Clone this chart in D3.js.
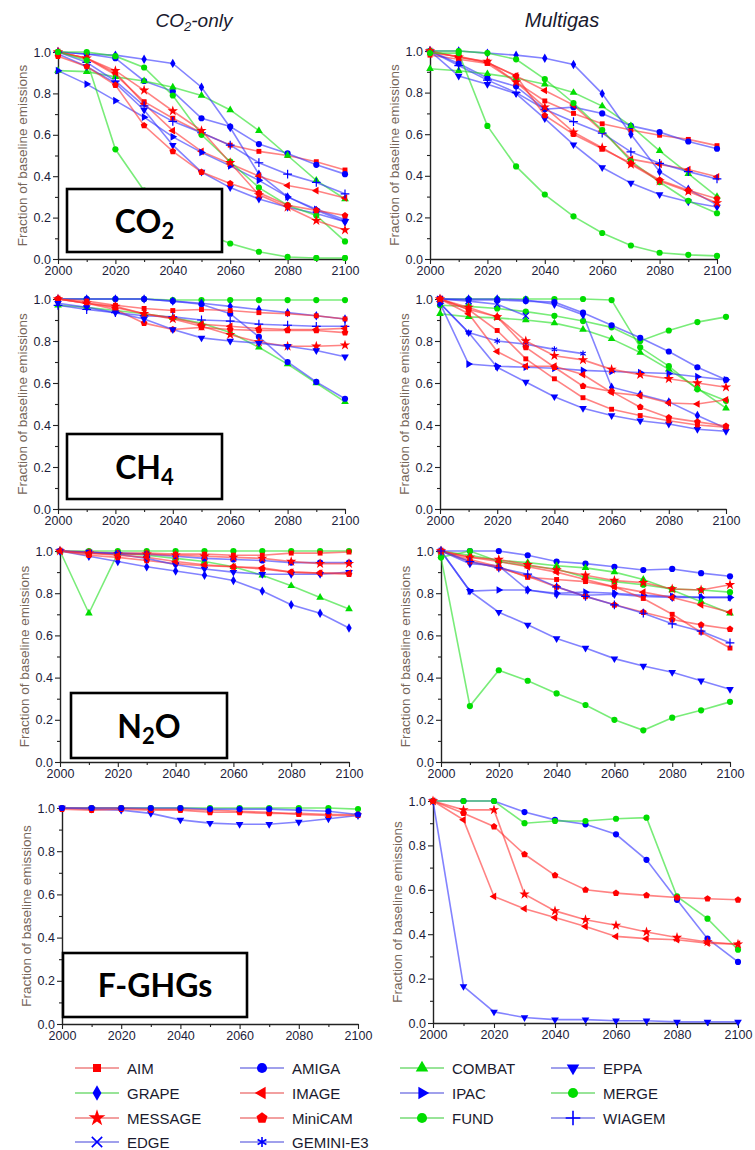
<!DOCTYPE html>
<html><head><meta charset="utf-8">
<script src="https://cdn.jsdelivr.net/npm/d3@7"></script>
<style>body{margin:0;background:#fff}svg{display:block}</style>
</head><body><svg id="c" width="755" height="1150"></svg>
<script>
const years = [2000,2010,2020,2030,2040,2050,2060,2070,2080,2090,2100];
const xTicks = [2000,2020,2040,2060,2080,2100];
const xMinor = [2010,2030,2050,2070,2090];
const yTicks = [0,0.2,0.4,0.6,0.8,1.0];
const yMinor = [0.1,0.3,0.5,0.7,0.9];
const columnTitles = ["CO2-only","Multigas"];
const gasLabels = ["CO2","CH4","N2O","F-GHGs"];

const modelNames = ["AIM","AMIGA","COMBAT","EPPA","GRAPE","IMAGE","IPAC","MERGE","MESSAGE","MiniCAM","FUND","WIAGEM","EDGE","GEMINI-E3"];
const modelMarkers = ["square","circle","triUp","triDown","diamond","triLeft","triRight","circle","star","pentagon","circle","plus","times","asterisk"];
const modelGroup = ["r","b","g","b","b","r","b","g","r","r","g","b","b","b"];

// CO2 — CO2-only
const co2_CO2only = [
 ["AIM",     [1.0,0.97,0.89,0.76,0.68,0.61,0.55,0.52,0.50,0.47,0.43]],
 ["AMIGA",   [1.0,0.99,0.97,0.86,0.81,0.68,0.64,0.555,0.51,0.455,0.41]],
 ["COMBAT",  [0.91,0.905,0.88,0.86,0.83,0.79,0.72,0.62,0.50,0.38,0.29]],
 ["EPPA",    [0.99,0.93,0.85,0.72,0.55,0.42,0.345,0.29,0.25,0.22,0.18]],
 ["GRAPE",   [1.0,0.99,0.985,0.965,0.945,0.83,0.635,0.41,0.30,0.235,0.18]],
 ["IMAGE",   [1.0,0.97,0.90,0.75,0.62,0.52,0.46,0.40,0.355,0.33,0.295]],
 ["IPAC",    [0.91,0.845,0.765,0.685,0.59,0.515,0.45,0.38,0.30,0.24,0.19]],
 ["WIAGEM",  [1.0,0.95,0.86,0.74,0.665,0.61,0.55,0.465,0.41,0.37,0.315]],
 ["MERGE",   [1.0,1.0,0.98,0.925,0.79,0.60,0.47,0.345,0.26,0.21,0.085]],
 ["MESSAGE", [1.0,0.97,0.91,0.815,0.715,0.62,0.465,0.31,0.25,0.185,0.14]],
 ["MiniCAM", [0.98,0.93,0.84,0.645,0.52,0.42,0.365,0.32,0.26,0.235,0.21]],
 ["FUND",    [1.0,0.96,0.53,0.33,0.20,0.13,0.075,0.035,0.01,0.005,0.005]]
];
// CO2 — Multigas
const co2_Multigas = [
 ["AIM",     [0.98,0.96,0.94,0.85,0.76,0.70,0.65,0.62,0.595,0.575,0.545]],
 ["AMIGA",   [1.0,0.94,0.87,0.83,0.72,0.73,0.70,0.64,0.61,0.565,0.53]],
 ["COMBAT",  [0.915,0.905,0.89,0.87,0.84,0.80,0.735,0.64,0.52,0.41,0.30]],
 ["EPPA",    [1.0,0.88,0.84,0.795,0.675,0.55,0.44,0.365,0.31,0.275,0.25]],
 ["GRAPE",   [1.0,1.0,0.99,0.98,0.965,0.935,0.795,0.60,0.42,0.335,0.26]],
 ["IMAGE",   [1.0,0.97,0.945,0.88,0.81,0.74,0.615,0.48,0.455,0.43,0.395]],
 ["WIAGEM",  [1.0,0.93,0.86,0.80,0.72,0.66,0.605,0.515,0.46,0.42,0.385]],
 ["MERGE",   [1.0,1.0,0.99,0.96,0.865,0.75,0.62,0.47,0.37,0.28,0.22]],
 ["MESSAGE", [1.0,0.97,0.95,0.85,0.73,0.61,0.535,0.455,0.375,0.325,0.27]],
 ["MiniCAM", [0.99,0.975,0.945,0.88,0.69,0.60,0.53,0.46,0.38,0.33,0.29]],
 ["FUND",    [0.99,0.99,0.64,0.445,0.31,0.205,0.125,0.065,0.03,0.02,0.015]]
];
// CH4 — CO2-only
const ch4_CO2only = [
 ["MERGE",   [1.0,1.0,1.0,1.0,0.995,0.995,0.995,0.995,0.995,0.995,0.995]],
 ["COMBAT",  [0.97,0.96,0.945,0.93,0.91,0.885,0.84,0.77,0.69,0.60,0.51]],
 ["AMIGA",   [1.0,1.0,1.0,1.0,0.99,0.975,0.93,0.82,0.70,0.605,0.525]],
 ["GRAPE",   [1.0,1.0,1.0,1.0,0.99,0.98,0.965,0.95,0.935,0.92,0.905]],
 ["AIM",     [1.0,0.99,0.97,0.955,0.945,0.95,0.945,0.935,0.93,0.92,0.905]],
 ["WIAGEM",  [0.97,0.95,0.935,0.92,0.915,0.90,0.895,0.88,0.875,0.87,0.87]],
 ["IMAGE",   [1.0,0.98,0.96,0.93,0.91,0.88,0.87,0.86,0.855,0.855,0.86]],
 ["MiniCAM", [1.0,0.98,0.95,0.885,0.855,0.865,0.855,0.85,0.85,0.85,0.84]],
 ["MESSAGE", [1.0,0.98,0.965,0.93,0.905,0.87,0.83,0.795,0.775,0.775,0.78]],
 ["EPPA",    [0.98,0.96,0.935,0.905,0.855,0.815,0.80,0.79,0.775,0.755,0.725]]
];
// CH4 — Multigas
const ch4_Multigas = [
 ["MERGE",   [1.0,1.0,1.0,1.0,1.0,1.0,0.995,0.77,0.68,0.57,0.515]],
 ["FUND",    [0.97,0.965,0.955,0.94,0.92,0.895,0.865,0.80,0.85,0.89,0.915]],
 ["COMBAT",  [0.93,0.915,0.91,0.90,0.885,0.855,0.81,0.745,0.665,0.575,0.48]],
 ["AMIGA",   [1.0,0.995,0.995,0.99,0.985,0.935,0.875,0.815,0.75,0.675,0.615]],
 ["GRAPE",   [1.0,1.0,1.0,0.995,0.975,0.925,0.58,0.545,0.51,0.445,0.385]],
 ["EDGE",    [1.0,0.99,0.975,0.92,null,null,null,null,null,null,null]],
 ["EPPA",    [0.98,0.84,0.675,0.605,0.535,0.48,0.445,0.42,0.405,0.38,0.37]],
 ["IPAC",    [0.98,0.69,0.68,0.675,0.67,0.66,0.655,0.65,0.645,0.63,0.615]],
 ["GEMINI-E3",[0.98,0.84,0.80,0.785,0.76,0.74,null,null,null,null,null]],
 ["MESSAGE", [1.0,0.96,0.915,0.80,0.73,0.71,0.665,0.64,0.62,0.60,0.58]],
 ["IMAGE",   [1.0,0.93,0.75,0.68,0.68,0.64,0.555,0.54,0.505,0.50,0.52]],
 ["AIM",     [1.0,0.95,0.85,0.715,0.62,0.53,0.475,0.445,0.42,0.40,0.39]],
 ["MiniCAM", [1.0,0.95,0.915,0.77,0.675,0.585,0.56,0.485,0.435,0.415,0.395]]
];
// N2O — CO2-only
const n2o_CO2only = [
 ["MERGE",   [1.0,1.0,1.0,1.0,1.0,1.0,1.0,1.0,1.0,1.0,1.0]],
 ["COMBAT",  [1.0,0.705,0.99,0.98,0.965,0.95,0.925,0.885,0.835,0.78,0.725]],
 ["GRAPE",   [1.0,0.975,0.95,0.925,0.905,0.885,0.86,0.81,0.745,0.705,0.635]],
 ["AIM",     [1.0,0.995,0.99,0.99,0.985,0.985,0.98,0.98,0.99,0.99,0.995]],
 ["AMIGA",   [1.0,0.99,0.99,0.985,0.975,0.965,0.96,0.955,0.945,0.945,0.945]],
 ["MESSAGE", [1.0,0.99,0.985,0.985,0.98,0.975,0.97,0.965,0.95,0.94,0.94]],
 ["MiniCAM", [1.0,0.98,0.97,0.955,0.94,0.93,0.925,0.915,0.90,0.895,0.89]],
 ["EPPA",    [1.0,0.995,0.985,0.965,0.935,0.915,0.90,0.89,0.89,0.89,0.90]],
 ["IMAGE",   [1.0,0.99,0.98,0.97,0.95,0.935,0.925,0.92,0.90,0.895,0.895]]
];
// N2O — Multigas
const n2o_Multigas = [
 ["FUND",    [0.97,0.265,0.435,0.385,0.325,0.27,0.20,0.15,0.21,0.245,0.285]],
 ["EPPA",    [1.0,0.81,0.71,0.65,0.585,0.54,0.49,0.455,0.425,0.385,0.345]],
 ["IPAC",    [1.0,0.81,0.815,0.815,0.80,0.805,0.80,0.79,0.785,0.78,0.78]],
 ["AMIGA",   [1.0,1.0,1.0,0.98,0.95,0.94,0.925,0.91,0.915,0.895,0.88]],
 ["GRAPE",   [1.0,0.94,0.93,0.815,0.795,0.79,0.795,0.785,0.78,0.78,0.78]],
 ["MERGE",   [0.97,1.0,0.95,0.93,0.915,0.875,0.855,0.84,0.82,0.815,0.805]],
 ["COMBAT",  [1.0,0.98,0.955,0.945,0.93,0.92,0.90,0.865,0.815,0.76,0.705]],
 ["MESSAGE", [1.0,0.97,0.96,0.935,0.91,0.885,0.86,0.85,0.82,0.815,0.84]],
 ["IMAGE",   [1.0,0.97,0.95,0.925,0.90,0.865,0.83,0.805,0.78,0.745,0.71]],
 ["MiniCAM", [1.0,0.95,0.92,0.88,0.83,0.785,0.745,0.71,0.675,0.65,0.63]],
 ["AIM",     [1.0,0.96,0.925,0.875,0.865,0.855,0.83,0.775,0.70,0.615,0.54]],
 ["WIAGEM",  [1.0,0.95,0.92,0.89,0.83,0.785,0.745,0.705,0.655,0.62,0.565]]
];
// F-GHGs — CO2-only
const fghg_CO2only = [
 ["MERGE",   [1.0,1.0,1.0,1.0,1.0,1.0,1.0,1.0,1.0,1.0,0.995]],
 ["EPPA",    [1.0,0.995,0.99,0.975,0.945,0.93,0.925,0.925,0.935,0.95,0.965]],
 ["MiniCAM", [0.995,0.99,0.995,0.99,0.99,0.98,0.98,0.975,0.975,0.97,0.97]],
 ["AIM",     [1.0,1.0,1.0,0.995,0.995,0.99,0.985,0.98,0.97,0.965,0.965]],
 ["AMIGA",   [1.0,1.0,1.0,1.0,1.0,0.995,0.995,0.995,0.99,0.985,0.97]]
];
// F-GHGs — Multigas
const fghg_Multigas = [
 ["EPPA",    [1.0,0.165,0.05,0.025,0.015,0.015,0.01,0.01,0.005,0.005,0.005]],
 ["AMIGA",   [1.0,1.0,1.0,0.95,0.915,0.895,0.85,0.735,0.555,0.38,0.275]],
 ["MERGE",   [1.0,1.0,1.0,0.90,0.91,0.91,0.92,0.925,0.57,0.47,0.33]],
 ["MiniCAM", [1.0,0.945,0.885,0.76,0.665,0.60,0.585,0.575,0.565,0.56,0.555]],
 ["IMAGE",   [1.0,0.915,0.57,0.515,0.475,0.435,0.39,0.38,0.375,0.36,0.355]],
 ["MESSAGE", [1.0,0.96,0.96,0.58,0.505,0.465,0.44,0.41,0.385,0.365,0.355]]
];

// ---------- styling / layout ----------
const markColor = {r:"#ff0000", b:"#0000ff", g:"#00dd00"};
const lineColor = {r:"#ff3030", b:"#3030ff", g:"#20e020"};
const legendLine = {r:"#f2a0a0", b:"#a0a0ec", g:"#98e498"};
const legendLineOverride = {"GRAPE":"#98e498"};

const panels = [
 {data:co2_CO2only,  x0:58,  x1:345, y0:52,  y1:259, gas:0, box:[67,189,155,63]},
 {data:co2_Multigas, x0:430, x1:717, y0:51,  y1:259},
 {data:ch4_CO2only,  x0:58,  x1:345, y0:299, y1:509, gas:1, box:[67,434,155,65]},
 {data:ch4_Multigas, x0:440, x1:726, y0:299, y1:509},
 {data:n2o_CO2only,  x0:60,  x1:349, y0:551, y1:762, gas:2, box:[71,693,156,65]},
 {data:n2o_Multigas, x0:441, x1:730, y0:551, y1:762},
 {data:fghg_CO2only, x0:62,  x1:358, y0:808, y1:1024, gas:3, box:[63,953,184,64]},
 {data:fghg_Multigas,x0:433, x1:738, y0:801, y1:1023}
];

const svg = d3.select("#c");

const pentagon = {draw(ctx, size){
  const r = Math.sqrt(size / 2.378);
  for (let i=0;i<5;i++){
    const a = -Math.PI/2 + i*2*Math.PI/5;
    const px = r*Math.cos(a), py = r*Math.sin(a);
    if (i===0) ctx.moveTo(px,py); else ctx.lineTo(px,py);
  }
  ctx.closePath();
}};
const symSpec = {
  square:{t:d3.symbolSquare, rot:0, k:0.8},
  circle:{t:d3.symbolCircle, rot:0, k:1},
  triUp:{t:d3.symbolTriangle, rot:0, k:0.85},
  triDown:{t:d3.symbolTriangle, rot:180, k:0.85},
  triLeft:{t:d3.symbolTriangle, rot:-90, k:0.85},
  triRight:{t:d3.symbolTriangle, rot:90, k:0.85},
  diamond:{t:d3.symbolDiamond, rot:0, k:0.85},
  star:{t:d3.symbolStar, rot:0, k:1.1},
  pentagon:{t:pentagon, rot:0, k:1},
  plus:{t:d3.symbolPlus, rot:0, k:0.9, stroke:true},
  times:{t:d3.symbolTimes, rot:0, k:0.9, stroke:true},
  asterisk:{t:d3.symbolAsterisk, rot:0, k:0.9, stroke:true}
};
function drawMarker(g, name, cx, cy, size, color, sw){
  const i = modelNames.indexOf(name);
  const s = symSpec[modelMarkers[i]];
  const p = g.append("path")
    .attr("d", d3.symbol(s.t, size*s.k)())
    .attr("transform", `translate(${cx},${cy}) rotate(${s.rot})`);
  if (s.stroke) p.attr("fill","none").attr("stroke",color).attr("stroke-width",sw||1.2);
  else p.attr("fill",color);
}

const tickFont = "'Liberation Sans', Arial, sans-serif";

panels.forEach((p, pi) => {
  const x = d3.scaleLinear().domain([2000,2100]).range([p.x0,p.x1]);
  const y = d3.scaleLinear().domain([0,1]).range([p.y1,p.y0]);
  const g = svg.append("g");

  g.append("g").attr("transform",`translate(${p.x0},0)`)
    .call(d3.axisLeft(y).tickValues(yMinor).tickSize(3).tickSizeOuter(0).tickFormat(""))
    .call(a=>a.select(".domain").remove());
  g.append("g").attr("transform",`translate(0,${p.y1})`)
    .call(d3.axisBottom(x).tickValues(xMinor).tickSize(3).tickSizeOuter(0).tickFormat(""))
    .call(a=>a.select(".domain").remove());
  const ya = g.append("g").attr("transform",`translate(${p.x0},0)`)
    .call(d3.axisLeft(y).tickValues(yTicks).tickSize(5).tickSizeOuter(0).tickPadding(2).tickFormat(d3.format(".1f")));
  const xa = g.append("g").attr("transform",`translate(0,${p.y1})`)
    .call(d3.axisBottom(x).tickValues(xTicks).tickSize(5).tickSizeOuter(0).tickPadding(2).tickFormat(d3.format("d")));
  [ya,xa].forEach(a=>{
    a.selectAll("text").attr("fill","#1c1c3a").style("font-family",tickFont).style("font-size","12.5px");
    a.select(".domain").attr("stroke","#222").attr("stroke-width",1.4);
  });
  g.selectAll(".tick line").attr("stroke","#222").attr("stroke-width",1.1);

  g.append("text")
    .attr("transform",`translate(${p.x0-31},${(p.y0+p.y1)/2}) rotate(-90)`)
    .attr("text-anchor","middle")
    .attr("fill","#76665a")
    .style("font-family",tickFont).style("font-size","13.5px")
    .text("Fraction of baseline emissions");

  const line = d3.line().defined(d=>d[1]!=null).x(d=>x(d[0])).y(d=>y(d[1]));
  const lg = g.append("g");
  const mg = g.append("g");
  p.data.forEach(([name, vals]) => {
    const grp = modelGroup[modelNames.indexOf(name)];
    const pts = years.map((yr,i)=>[yr, vals[i]]);
    lg.append("path").attr("d", line(pts))
      .attr("fill","none").attr("stroke", lineColor[grp])
      .attr("stroke-opacity",0.6).attr("stroke-width",1.6);
    pts.filter(d=>d[1]!=null).forEach(d=>drawMarker(mg, name, x(d[0]), y(d[1]), 30, markColor[grp]));
  });

  if (p.box){
    const [bx,by,bw,bh] = p.box;
    g.append("rect").attr("x",bx).attr("y",by).attr("width",bw).attr("height",bh)
      .attr("fill","#fff").attr("stroke","#000").attr("stroke-width",2.6);
    const lab = gasLabels[p.gas];
    const t = g.append("text").attr("x",bx+bw/2).attr("y",by+bh/2+12)
      .attr("text-anchor","middle")
      .style("font-family","Lato, 'DejaVu Sans', sans-serif").style("font-weight","700").style("font-size","32px")
      .attr("fill","#000");
    const m = lab.match(/^([A-Z]+)(\d)([A-Z]*)$/);
    if (m){
      t.append("tspan").text(m[1]);
      t.append("tspan").attr("dy",6).style("font-size","22px").text(m[2]);
      if (m[3]) t.append("tspan").attr("dy",-6).text(m[3]);
    } else t.text(lab);
  }
});

const t1 = svg.append("text").attr("x",194).attr("y",27).attr("text-anchor","middle")
  .style("font-family",tickFont).style("font-style","italic").style("font-size","19px").attr("fill","#1a1a2e");
t1.append("tspan").text("CO");
t1.append("tspan").attr("dy",4).style("font-size","13px").text("2");
t1.append("tspan").attr("dy",-4).text("-only");
svg.append("text").attr("x",562).attr("y",27).attr("text-anchor","middle")
  .style("font-family",tickFont).style("font-style","italic").style("font-size","20px").attr("fill","#1a1a2e")
  .text("Multigas");

const legendOrder = [["AIM","AMIGA","COMBAT","EPPA"],["GRAPE","IMAGE","IPAC","MERGE"],["MESSAGE","MiniCAM","FUND","WIAGEM"],["EDGE","GEMINI-E3"]];
const colX = [75, 240, 400, 551];
const rowY = [1068, 1093, 1118, 1142];
const leg = svg.append("g");
legendOrder.forEach((row, ri) => row.forEach((name, ci) => {
  const grp = modelGroup[modelNames.indexOf(name)];
  const lx = colX[ci], ly = rowY[ri];
  leg.append("line").attr("x1",lx).attr("x2",lx+44).attr("y1",ly).attr("y2",ly)
    .attr("stroke", legendLineOverride[name] || legendLine[grp]).attr("stroke-width",2);
  drawMarker(leg, name, lx+22, ly, 80, markColor[grp], 1.6);
  leg.append("text").attr("x",lx+52).attr("y",ly+5.5)
    .style("font-family",tickFont).style("font-size","15px").attr("fill","#1a1a2e").text(name);
}));
</script>
</body></html>
